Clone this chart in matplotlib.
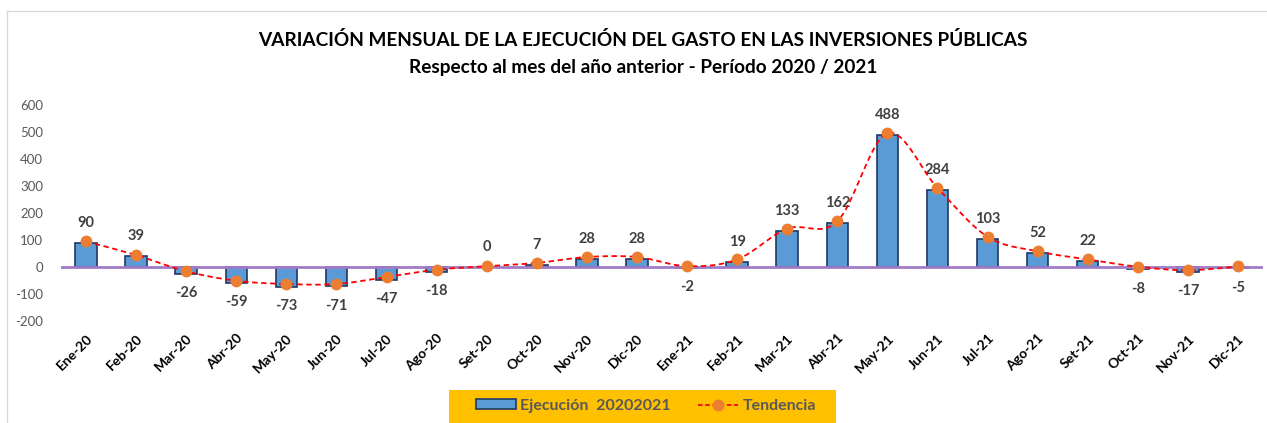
import numpy as np
import matplotlib
matplotlib.use("Agg")
import matplotlib.pyplot as plt
from matplotlib.patches import Rectangle, Patch
from matplotlib.lines import Line2D

plt.rcParams['font.family'] = ['Lato', 'DejaVu Sans']

months = ["Ene-20", "Feb-20", "Mar-20", "Abr-20", "May-20", "Jun-20", "Jul-20", "Ago-20",
          "Set-20", "Oct-20", "Nov-20", "Dic-20", "Ene-21", "Feb-21", "Mar-21", "Abr-21",
          "May-21", "Jun-21", "Jul-21", "Ago-21", "Set-21", "Oct-21", "Nov-21", "Dic-21"]
ejecucion = [90, 39, -26, -59, -73, -71, -47, -18, 0, 7, 28, 28, -2, 19, 133, 162,
             488, 284, 103, 52, 22, -8, -17, -5]
tendencia = [95, 44, -16, -51, -63, -63, -37, -10, 3, 15, 37, 37, 3, 28, 142, 169,
             496, 293, 112, 58, 28, 1, -12, 2]
yticks = [-200, -100, 0, 100, 200, 300, 400, 500, 600]

title1 = "VARIACIÓN MENSUAL DE LA EJECUCIÓN DEL GASTO EN LAS INVERSIONES PÚBLICAS"
title2 = "Respecto al mes del año anterior - Período 2020 / 2021"

W, H = 1267, 423
fig = plt.figure(figsize=(W / 100, H / 100), dpi=100)
ax = fig.add_axes([61 / W, (H - 321) / H, 1202 / W, 216 / H])

x = np.arange(len(months))
ax.bar(x, ejecucion, width=0.43, color="#5B9BD5", edgecolor="#1F3864", linewidth=1.2, zorder=2)
ax.axhline(0, color="#A07CC8", linewidth=2, zorder=3)

# Catmull-Rom smoothing (similar to Excel smoothed line)
def smooth(xs, ys, n=20):
    P = np.column_stack([xs, ys]).astype(float)
    out = []
    for i in range(len(P) - 1):
        p0 = P[max(i - 1, 0)]
        p1 = P[i]
        p2 = P[i + 1]
        p3 = P[min(i + 2, len(P) - 1)]
        t = np.linspace(0, 1, n, endpoint=False)[:, None]
        seg = 0.5 * ((2 * p1) + (-p0 + p2) * t + (2 * p0 - 5 * p1 + 4 * p2 - p3) * t ** 2
                     + (-p0 + 3 * p1 - 3 * p2 + p3) * t ** 3)
        out.append(seg)
    out.append(P[-1][None, :])
    out = np.vstack(out)
    return out[:, 0], out[:, 1]

sx, sy = smooth(x, tendencia)
ax.plot(sx, sy, color="#FF0000", linestyle=(0, (3, 2)), linewidth=1.3, zorder=4)
ax.plot(x, tendencia, linestyle="none", marker="o", markersize=7.5,
        markerfacecolor="#ED7D31", markeredgecolor="#ED7D31", zorder=5)

for xi, v in zip(x, ejecucion):
    if v >= 0:
        ax.annotate(str(v), (xi, v), xytext=(0, 14.5), textcoords="offset points",
                    ha="center", va="center", fontsize=10.5, fontweight="bold", color="#404040")
    else:
        ax.annotate(str(v), (xi, v), xytext=(0, -14), textcoords="offset points",
                    ha="center", va="center", fontsize=10.5, fontweight="bold", color="#404040")

ax.set_xlim(-0.5, len(months) - 0.5)
ax.set_ylim(-200, 600)
ax.set_yticks(yticks)
ax.set_yticklabels([str(t) for t in yticks], fontsize=9.5, color="#595959")
ax.set_xticks(x)
ax.set_xticklabels(months, rotation=45, ha="right", rotation_mode="anchor",
                   fontsize=10, fontweight="bold", color="#000000")
ax.tick_params(axis="both", length=0)
ax.tick_params(axis="x", pad=8)
ax.tick_params(axis="y", pad=13)
for s in ax.spines.values():
    s.set_visible(False)

fig.text(643 / W, 1 - 40 / H, title1, ha="center", va="center",
         fontsize=13.7, fontweight="bold", color="#000000")
fig.text(643 / W, 1 - 67 / H, title2, ha="center", va="center",
         fontsize=13.7, fontweight="bold", color="#000000")

# chart border (top/left visible)
fig.add_artist(Line2D([7 / W, 7 / W], [0, 1 - 11 / H], transform=fig.transFigure,
                      color="#D9D9D9", linewidth=1))
fig.add_artist(Line2D([7 / W, 1], [1 - 11 / H, 1 - 11 / H], transform=fig.transFigure,
                      color="#D9D9D9", linewidth=1))

# legend background
fig.add_artist(Rectangle((449 / W, 0), 387 / W, (H - 390) / H, transform=fig.transFigure,
                         facecolor="#FFC000", edgecolor="none", zorder=0))
handles = [Patch(facecolor="#5B9BD5", edgecolor="#1F3864", linewidth=1.2),
           Line2D([0], [0], color="#FF0000", linestyle=(0, (2.5, 1.5)), linewidth=1.3,
                  marker="o", markersize=7.5, markerfacecolor="#ED7D31", markeredgecolor="#ED7D31")]
leg = fig.legend(handles, ["Ejecución  20202021", "Tendencia"], loc="center",
                 bbox_to_anchor=(646 / W, 1 - 406 / H), ncol=2, frameon=False,
                 handlelength=2.5, handleheight=0.6, columnspacing=1.7, handletextpad=0.3,
                 prop={"weight": "bold", "size": 11.5})
for t in leg.get_texts():
    t.set_color("#595959")

fig.savefig("out.png", dpi=100)
